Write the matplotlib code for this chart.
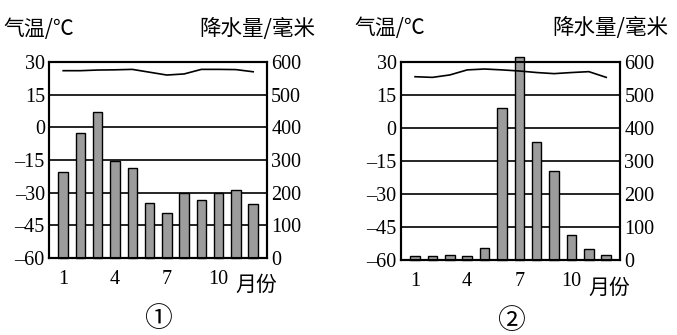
import matplotlib.pyplot as plt
import numpy as np

plt.rcParams['font.family'] = ['Liberation Serif', 'Noto Sans CJK SC', 'DejaVu Sans']

# ── Datos ────────────────────────────────────────────────
months = np.arange(1, 13)
month_ticks = [1, 4, 7, 10]

temp_ticks = [-60, -45, -30, -15, 0, 15, 30]
temp_labels = ['–60', '–45', '–30', '–15', '0', '15', '30']
prec_ticks = [0, 100, 200, 300, 400, 500, 600]

temp_1 = [26.0, 26.0, 26.3, 26.4, 26.6, 25.3, 24.0, 24.5, 26.6, 26.6, 26.5, 25.5]
prec_1 = [262, 382, 447, 298, 275, 167, 138, 200, 177, 200, 209, 166]

temp_2 = [23.3, 23.0, 24.1, 26.4, 26.8, 26.4, 25.9, 25.2, 24.7, 25.2, 25.6, 23.0]
prec_2 = [12, 12, 15, 12, 35, 460, 614, 357, 270, 75, 33, 15]

panels = [
    (temp_1, prec_1, '①', [0.0724, 0.230, 0.322, 0.585]),
    (temp_2, prec_2, '②', [0.592, 0.224, 0.324, 0.591]),
]

fig = plt.figure(figsize=(6.77, 3.35), dpi=100)
cjk = ['Noto Sans CJK SC', 'DejaVu Sans']

for temp, prec, tag, rect in panels:
    ax = fig.add_axes(rect)
    ax2 = ax.twinx()
    ax.set_zorder(ax2.get_zorder() + 1)
    ax.patch.set_visible(False)

    # barras de precipitación (eje derecho)
    ax2.bar(months, prec, width=0.55, color='#9c9c9c', edgecolor='black',
            linewidth=1.0, clip_on=False, zorder=3)
    ax2.set_ylim(0, 600)
    ax2.set_yticks(prec_ticks)
    for y in prec_ticks[1:-1]:
        ax2.axhline(y, color='black', linewidth=1.2, zorder=1)

    # curva de temperatura (eje izquierdo)
    ax.plot(months, temp, color='black', linewidth=1.2, zorder=4)
    ax.set_ylim(-60, 30)
    ax.set_yticks(temp_ticks)
    ax.set_yticklabels(temp_labels)
    ax.set_xlim(0.18, 12.8)
    ax.set_xticks(month_ticks)

    for a in (ax, ax2):
        a.tick_params(length=0, labelsize=14.5, pad=3)
        for s in a.spines.values():
            s.set_linewidth(1.5)
    ax.tick_params(axis='x', pad=9)

    ax.text(-0.21, 1.17, '气温/℃', transform=ax.transAxes, fontsize=15,
            family=cjk, ha='left', va='center')
    ax.text(1.22, 1.17, '降水量/毫米', transform=ax.transAxes, fontsize=15.5,
            family=cjk, ha='right', va='center')
    ax.text(0.95, -0.14, '月份', transform=ax.transAxes, fontsize=15,
            family=cjk, ha='center', va='center')
    ax.text(0.5, -0.31, tag, transform=ax.transAxes, fontsize=20,
            family=cjk, ha='center', va='center')

fig.savefig('out.png', dpi=100, facecolor='white')
